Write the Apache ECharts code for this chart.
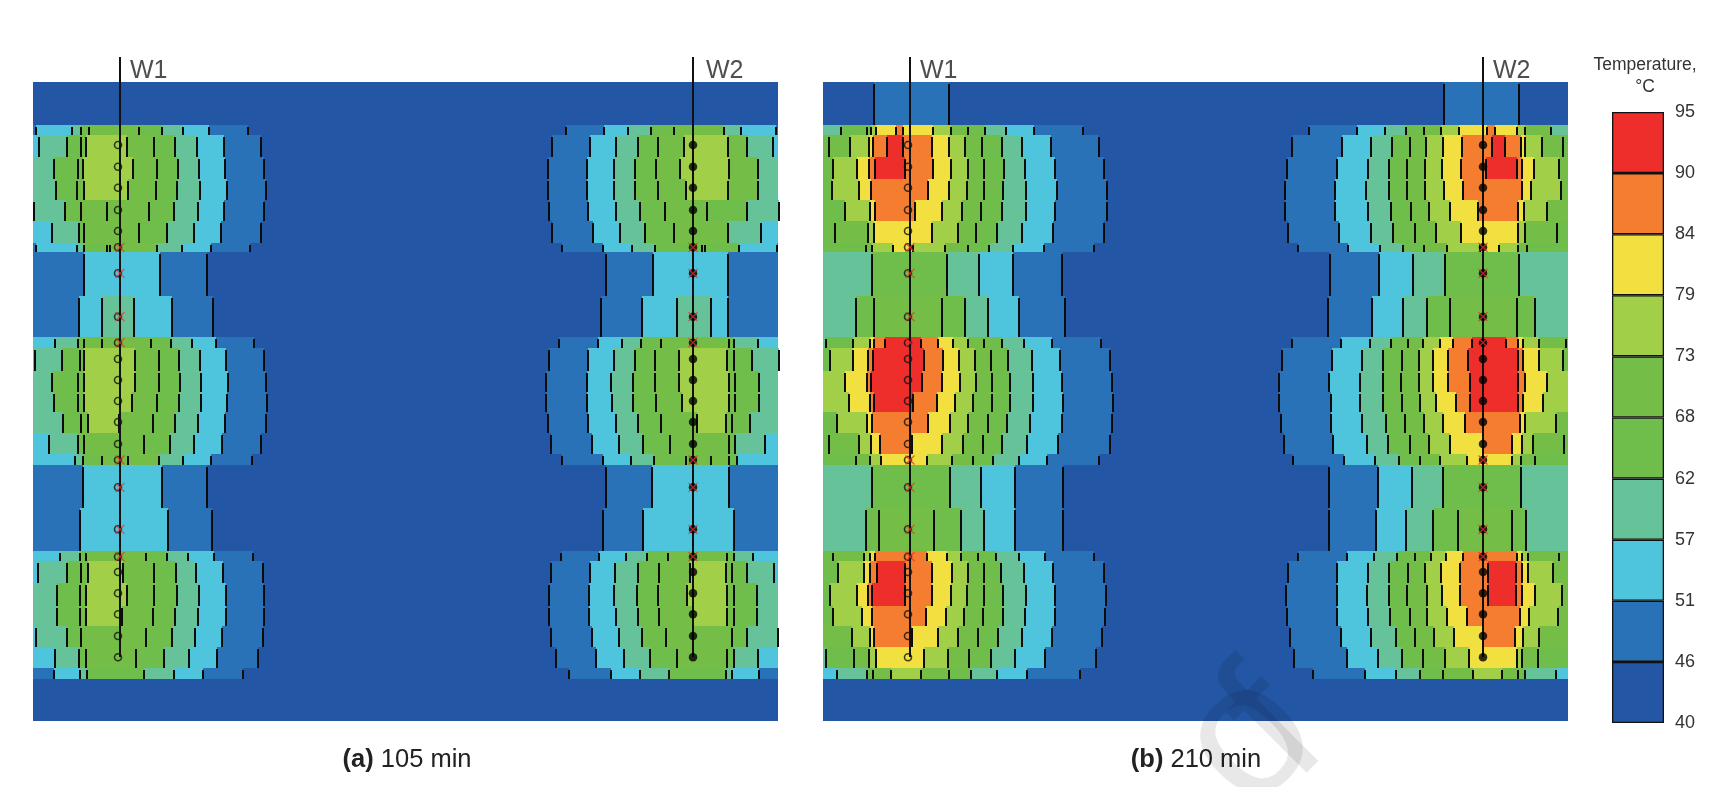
<!DOCTYPE html>
<html>
<head>
<meta charset="utf-8">
<title>Temperature contours</title>
<style>
  html, body { margin: 0; padding: 0; background: #fff; }
  #main { width: 1718px; height: 787px; }
</style>
<script src="https://cdn.jsdelivr.net/npm/echarts@6/dist/echarts.min.js"></script>
</head>
<body>
<div id="main"></div>
<script>
// temperature bands, lowest first
var bandColors = ['#2356a4', '#2a72b8', '#4fc5dd', '#66c299', '#6fbd4b', '#74be47', '#a2cf48', '#f1e03f', '#f57d30', '#ee2e2b'];
var tempLabels = [40, 46, 51, 57, 62, 68, 73, 79, 84, 90, 95];

// layer boundaries, depth from the top of the section
var layerEdges = [0, 43, 53, 74.7, 96.5, 118, 139, 160.5, 169.7, 213.7, 255.3, 266.3, 288.7, 309.7, 330.3, 351.3, 372.3, 383, 425.7, 469, 479, 501.3, 524, 544, 564.7, 586.3, 597.3, 639];

// each layer reads left to right: band, distance, band, distance, ... band
var rowsA = [
  [0],
  [1,3,2,39,3,48,4,56,5,106,4,129,3,150,2,176,1,215,0,533,1,571,2,595,3,618,4,641,5,691,3,708,2,743,1],
  [2,6,3,34,4,48,5,53,6,94,5,121,4,142,3,164,2,191,1,228,0,519,1,557,2,583,3,605,4,625,5,651,6,695,5,714,3,740,2],
  [3,21,4,45,5,50,6,100,5,124,4,145,3,166,2,192,1,231,0,515,1,554,2,581,3,602,4,623,5,647,6,696,5,725,3],
  [3,23,4,44,5,51,6,95,5,123,4,144,3,167,2,194,1,233,0,515,1,554,2,581,3,602,4,625,5,653,6,695,5,725,3],
  [2,1,3,32,4,48,5,74,5,116,4,141,3,165,2,191,1,231,0,516,1,555,2,583,3,607,4,632,5,674,4,714,3,746,2],
  [2,19,3,46,4,51,5,106,4,134,3,161,2,188,1,228,0,519,1,560,2,587,3,612,4,641,5,695,3,728,2],
  [1,3,2,44,3,51,4,74,5,77,5,124,3,149,2,178,1,217,0,529,1,570,2,599,3,622,4,669,5,672,4,706,2,744,1],
  [1,51,2,127,1,174,0,573,1,620,2,695,1],
  [1,46,2,69,3,101,2,139,1,180,0,568,1,609,2,644,3,678,2,695,1],
  [2,22,3,45,4,51,5,69,5,118,4,138,3,159,2,183,1,221,0,526,1,565,2,589,3,608,4,628,5,696,4,701,3,725,2],
  [3,2,3,29,4,47,5,51,6,102,5,126,4,146,3,167,2,193,1,231,0,516,1,555,2,581,3,602,4,622,5,646,6,694,5,701,4,719,3,746,2],
  [3,19,4,45,5,51,6,102,5,126,4,147,3,168,2,195,1,233,0,513,1,554,2,578,3,600,4,622,5,646,6,696,5,702,4,726,3],
  [3,21,4,45,5,51,6,99,5,124,4,146,3,168,2,194,1,234,0,513,1,554,2,579,3,600,4,623,5,649,6,696,5,702,4,726,3],
  [3,30,4,48,5,55,6,86,5,120,4,142,3,165,2,192,1,233,0,515,1,555,2,583,3,605,4,628,5,664,6,693,5,699,4,717,3],
  [2,16,3,45,4,51,5,111,4,137,3,161,2,189,1,228,0,518,1,559,2,586,3,610,4,637,5,696,4,702,3,732,2],
  [2,42,3,50,4,69,5,95,5,126,3,150,2,178,1,219,0,529,1,570,2,598,3,621,4,653,5,678,5,696,4,704,2],
  [1,50,2,129,1,174,0,573,1,619,2,696,1],
  [1,47,2,135,1,179,0,570,1,610,2,701,1],
  [2,27,3,47,4,53,5,113,4,134,3,155,2,181,1,220,0,528,1,566,2,593,3,614,4,635,5,694,4,701,3,720,2],
  [2,5,3,34,4,48,5,55,6,90,5,121,4,143,3,163,2,190,1,230,0,518,1,557,2,582,3,605,4,626,5,657,6,693,5,699,4,714,3,741,2],
  [3,24,4,47,5,53,6,94,5,121,4,144,3,166,2,193,1,231,0,516,1,556,2,581,3,604,4,625,5,654,6,694,5,701,4,724,3],
  [3,24,4,47,5,53,6,89,5,120,4,142,3,165,2,193,1,231,0,516,1,556,2,583,3,605,4,626,5,660,6,694,5,701,4,724,3],
  [2,3,3,34,4,48,5,113,4,139,3,162,2,189,1,230,0,518,1,559,2,586,3,609,4,633,5,699,4,714,3,745,2],
  [2,22,3,46,4,53,5,103,4,131,3,156,2,184,1,225,0,523,1,563,2,591,3,617,4,644,5,694,4,701,3,725,2],
  [1,21,2,47,3,54,4,111,3,141,2,170,1,210,0,536,1,578,2,607,3,636,4,693,3,699,2,726,1],
  [0]
];

var rowsB = [
  [0,51,1,126,0,621,1,696,0],
  [3,18,4,44,5,48,6,53,7,73,8,80,7,110,6,128,5,145,4,162,3,183,2,211,1,260,0,486,1,534,2,562,3,583,4,601,5,618,6,636,7,664,8,672,7,694,6,702,5,728,3],
  [4,6,5,27,6,46,7,50,8,64,9,80,8,109,7,126,6,142,5,159,4,179,3,199,2,228,1,276,0,469,1,519,2,548,3,569,4,587,5,603,6,620,7,639,8,669,9,682,8,698,7,702,6,719,5,740,4],
  [4,10,6,34,7,46,8,52,9,82,8,110,7,128,6,145,5,161,4,181,3,202,2,232,1,281,0,464,1,514,2,545,3,566,4,584,5,602,6,619,7,638,8,663,9,694,8,699,7,711,6,736,5],
  [4,9,6,36,7,48,8,105,7,126,6,144,5,161,4,180,3,203,2,234,1,284,0,462,1,512,2,543,3,566,4,584,5,602,6,621,7,640,8,699,7,708,6,738,5],
  [4,22,6,47,7,52,8,92,7,119,6,139,5,158,4,179,3,203,2,232,1,284,0,462,1,512,2,545,3,568,4,588,5,606,6,627,7,655,8,695,7,701,6,724,5],
  [4,12,5,45,6,51,7,109,6,135,5,153,4,174,3,199,2,230,1,281,0,465,1,516,2,548,3,570,4,592,5,613,6,638,7,695,6,702,5,734,4],
  [4,43,5,49,6,70,7,90,6,122,5,145,4,166,3,190,2,221,1,271,0,475,1,525,2,557,3,580,4,601,5,624,6,657,7,676,6,695,5,704,4],
  [3,49,4,124,3,156,2,190,1,239,0,507,1,556,2,590,3,622,4,696,3],
  [3,33,4,51,5,119,4,142,3,165,2,196,1,242,0,505,1,549,2,580,3,604,4,627,5,694,4,712,3],
  [3,3,4,30,6,47,7,51,8,62,9,98,8,115,7,130,6,145,5,161,4,179,3,201,2,229,1,278,0,469,1,518,2,547,3,568,4,585,5,600,6,617,7,630,8,649,9,683,8,695,7,700,6,716,5,743,4],
  [4,7,6,30,7,45,8,50,9,101,8,120,7,136,6,152,5,168,4,185,3,209,2,237,1,287,0,459,1,509,2,539,3,560,4,579,5,596,6,610,7,625,8,645,9,695,8,700,7,716,6,740,5],
  [6,22,7,44,8,48,9,99,8,119,7,137,6,153,5,169,4,187,3,210,2,239,1,289,0,456,1,506,2,537,3,560,4,578,5,596,6,610,7,625,8,647,9,695,8,702,7,724,6],
  [6,26,7,47,8,51,9,90,8,114,7,132,6,150,5,169,4,187,3,210,2,240,1,290,0,456,1,508,2,537,3,560,4,579,5,597,6,613,7,633,8,647,9,695,8,700,7,720,6],
  [4,14,6,44,7,49,8,105,7,127,6,145,5,165,4,184,3,207,2,239,1,289,0,458,1,508,2,539,3,563,4,582,5,601,6,620,7,642,8,697,7,702,6,733,5],
  [4,6,5,36,6,48,7,57,8,89,7,119,6,140,5,160,4,179,3,204,2,235,1,287,0,461,1,510,2,544,3,565,4,587,5,606,6,627,7,660,8,689,7,699,6,710,5,741,4],
  [4,33,5,47,6,58,7,104,6,129,5,150,4,170,3,196,2,224,1,276,0,470,1,521,2,552,3,576,4,597,5,617,6,644,7,689,6,698,5,712,4],
  [3,49,4,127,3,158,2,192,1,240,0,506,1,555,2,589,3,620,4,698,3],
  [3,43,4,56,5,111,4,138,3,161,2,192,1,240,0,506,1,553,2,583,3,610,4,635,5,689,4,703,3],
  [4,10,5,41,6,47,7,52,8,104,7,124,6,138,5,155,4,173,3,196,2,222,1,271,0,475,1,524,2,551,3,574,4,592,5,608,6,623,7,640,8,694,7,699,6,705,5,736,4],
  [4,15,6,41,7,47,8,54,9,82,8,109,7,129,6,145,5,161,4,178,3,201,2,230,1,281,0,465,1,514,2,545,3,566,4,585,5,602,6,618,7,637,8,665,9,693,8,699,7,705,6,730,5],
  [4,7,6,34,7,45,8,49,9,82,8,109,7,128,6,144,5,161,4,180,3,203,2,232,1,283,0,463,1,514,2,544,3,566,4,584,5,604,6,619,7,637,8,665,9,693,8,699,7,712,6,739,5],
  [4,10,6,39,7,49,8,103,7,123,6,141,5,160,4,180,3,202,2,232,1,282,0,464,1,514,2,545,3,567,4,587,5,604,6,624,7,644,8,697,7,706,6,735,5],
  [5,29,6,47,7,51,8,89,7,115,6,135,5,155,4,175,3,199,2,229,1,279,0,467,1,518,2,548,3,573,4,592,5,611,6,631,7,660,8,692,7,700,6,716,5],
  [3,3,4,31,5,46,6,53,7,101,6,125,5,146,4,168,3,192,2,222,1,273,0,471,1,524,2,555,3,579,4,600,5,622,6,646,7,694,6,699,5,715,4],
  [2,14,3,44,4,50,5,68,6,98,5,126,4,148,3,174,2,204,1,257,0,490,1,542,2,573,3,597,4,620,5,650,6,679,5,695,4,702,3,733,2],
  [0]
];

// wells and sensors
var sectionLength = 745;
var sectionDepth = 639;
var wellX = [87, 660];
var wellTop = -25;
var wellBottom = 575;
var sensorX = [85, 660];
var sensorDepths = [63, 84.7, 105.7, 128, 149, 165.3, 191.3, 234.7, 260.7, 277, 298, 319, 340, 362, 378, 405.3, 447.3, 474.7, 490, 511.3, 532.3, 554, 575.3];
var crossDepths = [165.3, 191.3, 234.7, 260.7, 378, 405.3, 447.3, 474.7];

function bandCells(rows) {
  var out = [];
  rows.forEach(function (row, r) {
    var x0 = 0;
    for (var i = 0; i < row.length; i += 2) {
      var x1 = i + 1 < row.length ? row[i + 1] : sectionLength;
      out.push([x0, x1, layerEdges[r], layerEdges[r + 1], row[i]]);
      x0 = x1;
    }
  });
  return out;
}

function bandTicks(rows) {
  var out = [];
  rows.forEach(function (row, r) {
    for (var i = 1; i < row.length; i += 2) {
      out.push([row[i], layerEdges[r], layerEdges[r + 1]]);
    }
  });
  return out;
}

function renderCell(params, api) {
  var p0 = api.coord([api.value(0), api.value(2)]);
  var p1 = api.coord([api.value(1), api.value(3)]);
  var x = Math.round(p0[0]), y = Math.round(p0[1]);
  return {
    type: 'rect',
    shape: { x: x, y: y, width: Math.round(p1[0]) - x, height: Math.round(p1[1]) - y },
    style: { fill: bandColors[api.value(4)] }
  };
}

function renderTick(params, api) {
  var p0 = api.coord([api.value(0), api.value(1)]);
  var p1 = api.coord([api.value(0), api.value(2)]);
  var x = Math.round(p0[0]);
  return {
    type: 'line',
    shape: { x1: x, y1: Math.round(p0[1]) + 2, x2: x, y2: Math.round(p1[1]) },
    style: { stroke: '#0c0c0c', lineWidth: 2 }
  };
}

var series = [];

function addPanel(idx, rows) {
  series.push({
    type: 'custom', xAxisIndex: idx, yAxisIndex: idx, silent: true, clip: false,
    renderItem: renderCell, encode: { x: [0, 1], y: [2, 3] }, data: bandCells(rows), z: 2
  });
  series.push({
    type: 'custom', xAxisIndex: idx, yAxisIndex: idx, silent: true, clip: false,
    renderItem: renderTick, encode: { x: 0, y: [1, 2] }, data: bandTicks(rows), z: 3
  });
  wellX.forEach(function (x, w) {
    series.push({
      type: 'line', xAxisIndex: idx, yAxisIndex: idx, silent: true, clip: false,
      showSymbol: false, animation: false, z: 4,
      lineStyle: { color: '#111', width: 2 },
      data: [[x, wellTop], [x, wellBottom]]
    });
    series.push({
      type: 'scatter', xAxisIndex: idx, yAxisIndex: idx, silent: true, clip: false, z: 5,
      symbolSize: 0,
      label: {
        show: true, position: 'right', distance: idx === 0 && w === 1 ? 13 : 10, formatter: 'W' + (w + 1),
        fontFamily: 'Liberation Sans', fontSize: 25, color: '#222'
      },
      data: [[x, -10.5]]
    });
    series.push({
      type: 'scatter', xAxisIndex: idx, yAxisIndex: idx, silent: true, clip: false, z: 6,
      symbolSize: w === 0 ? 7 : 8.5,
      itemStyle: w === 0
        ? { color: 'rgba(0,0,0,0)', borderColor: '#111', borderWidth: 1.6 }
        : { color: '#000' },
      data: sensorDepths.map(function (d) { return [sensorX[w], d]; })
    });
    series.push({
      type: 'scatter', xAxisIndex: idx, yAxisIndex: idx, silent: true, clip: false, z: 7,
      symbol: 'path://M0 0L10 10M10 0L0 10', symbolSize: 9,
      itemStyle: { color: 'rgba(0,0,0,0)', borderColor: '#ee2e2b', borderWidth: 1.2 },
      data: crossDepths.map(function (d) { return [x, d]; })
    });
  });
}

addPanel(0, rowsA);
addPanel(1, rowsB);

// colour key
bandColors.forEach(function (c) {
  series.push({
    type: 'bar', xAxisIndex: 2, yAxisIndex: 2, stack: 'key', silent: true, barWidth: '100%',
    itemStyle: { color: c, borderColor: '#111', borderWidth: 1.3 },
    data: [1]
  });
});

function sectionX(i) {
  return { gridIndex: i, type: 'value', min: 0, max: sectionLength, show: false };
}
function sectionY(i) {
  return { gridIndex: i, type: 'value', min: 0, max: sectionDepth, inverse: true, show: false };
}

var captionStyle = {
  fontWeight: 'normal', fontSize: 25.5, color: '#222', fontFamily: 'Liberation Sans',
  rich: { b: { fontWeight: 'bold', fontSize: 25.5, color: '#222', fontFamily: 'Liberation Sans' } }
};

var chart = echarts.init(document.getElementById('main'));
chart.setOption({
  animation: false,
  backgroundColor: '#fff',
  textStyle: { fontFamily: 'Liberation Sans' },
  title: [
    { text: '{b|(a)} 105 min', left: 402, top: 742, textAlign: 'center', textStyle: captionStyle },
    { text: '{b|(b)} 210 min', left: 1191, top: 742, textAlign: 'center', textStyle: captionStyle },
    {
      text: 'Temperature,\n°C', left: 1640, top: 49, textAlign: 'center',
      textStyle: { fontWeight: 'normal', fontSize: 17.5, lineHeight: 22, color: '#333', fontFamily: 'Liberation Sans' }
    }
  ],
  grid: [
    { left: 33, top: 82, width: sectionLength, height: sectionDepth },
    { left: 823, top: 82, width: sectionLength, height: sectionDepth },
    { left: 1612, top: 112, width: 52, height: 611 }
  ],
  xAxis: [sectionX(0), sectionX(1), { gridIndex: 2, type: 'category', data: ['key'], show: false }],
  yAxis: [sectionY(0), sectionY(1), {
    gridIndex: 2, type: 'value', position: 'right', min: 0, max: bandColors.length, interval: 1,
    splitLine: { show: false }, axisLine: { show: false }, axisTick: { show: false },
    axisLabel: {
      margin: 11, fontSize: 18, color: '#333', fontFamily: 'Liberation Sans',
      formatter: function (v) { return tempLabels[v]; }
    }
  }],
  graphic: [
    {
      type: 'text', z: 100, silent: true, x: 1280, y: 845, rotation: Math.PI / 4,
      style: { text: 'o', font: '190px "Liberation Sans"', fill: 'rgba(0,0,0,0.09)', textVerticalAlign: 'bottom' }
    },
    {
      type: 'text', z: 100, silent: true, x: 1325, y: 815, rotation: Math.PI / 4,
      style: { text: 'f', font: '190px "Liberation Sans"', fill: 'rgba(0,0,0,0.09)', textVerticalAlign: 'bottom' }
    }
  ],
  series: series
});
</script>
</body>
</html>
